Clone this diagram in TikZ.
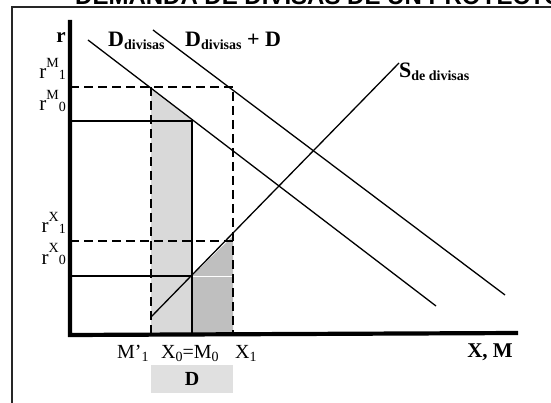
\documentclass[tikz,border=0pt]{standalone}
\usepackage{fontspec}
\setmainfont{Liberation Serif}
\newfontfamily\titlefont{Liberation Sans}
\newcommand{\rlab}[2]{r\raisebox{11pt}{\fontsize{14}{14}\selectfont #1}\raisebox{-1pt}{\fontsize{14}{14}\selectfont #2}}
\newcommand{\subt}[1]{\raisebox{-3pt}{\fontsize{14}{14}\selectfont #1}}
\begin{document}
\begin{tikzpicture}[x=1pt,y=-1pt,
  lab/.style={inner sep=0pt,anchor=base east,font=\fontsize{21}{21}\selectfont},
  blab/.style={inner sep=0pt,anchor=base west,font=\fontsize{20}{20}\selectfont},
  axis/.style={line width=4.2pt},
  guide/.style={line width=2.6pt},
  dguide/.style={line width=2.3pt,dash pattern=on 9pt off 5pt},
  curve/.style={line width=1.3pt}]
\useasboundingbox (0,0) rectangle (551,403);
\clip (0,0) rectangle (551,403);
% title and frame
\node[inner sep=0pt,anchor=base west,font=\titlefont\bfseries\fontsize{24}{24}\selectfont] (title) at (75,4.5) {DEMANDA DE DIVISAS DE UN PROYECTO};
\draw[line width=1.5pt,black!85] (12,415) -- (12,7) -- (560,7);
% key points
\coordinate (O) at (70,333);
\coordinate (Ytop) at (70,20);
\coordinate (Xend) at (518,333);
\coordinate (Da) at (88,40);
\coordinate (Db) at (436,306);
\coordinate (Ea) at (153,30);
\coordinate (Eb) at (505,295);
\coordinate (Sa) at (151,317);
\coordinate (Sb) at (399,63);
\coordinate (M1top) at (151,87);
\coordinate (M1bot) at (151,333);
\coordinate (X1top) at (233,87);
\coordinate (X1bot) at (233,333);
\coordinate (X0bot) at (192,333);
\coordinate (RM1) at (70,87);
\coordinate (RM0) at (70,121);
\coordinate (RX1) at (70,241);
\coordinate (RX0) at (70,276);
% shaded areas
\fill[black!15] (151,333) -- (151,88) -- (192,120) -- (192,333) -- cycle;
\fill[black!25] (192,333) -- (192,276) -- (233,236) -- (233,333) -- cycle;
\draw[white,line width=1pt] (193,276) -- (233,276);
% guides
\draw[dguide] (RM1) -- (X1top) -- (X1bot);
\draw[dguide] (M1top) -- (M1bot);
\draw[dguide] (RX1) -- (233,241);
\draw[guide] (RM0) -- (192,121) -- (X0bot);
\draw[guide] (RX0) -- (192,276);
% curves
\draw[curve] (Da) -- (Db);
\draw[curve] (Ea) -- (Eb);
\draw[curve] (Sa) -- (Sb);
% axes
\draw[axis] (Ytop) -- (70,335) -- (Xend);
% labels
\node[inner sep=0pt,anchor=base east,font=\bfseries\fontsize{21}{21}\selectfont] (rlab) at (66,43) {r};
\node[lab] (lrm1) at (66,79) {\rlab{M}{1}};
\node[lab] (lrm0) at (66,111) {\rlab{M}{0}};
\node[lab] (lrx1) at (66,233) {\rlab{X}{1}};
\node[lab] (lrx0) at (66,264) {\rlab{X}{0}};
\node[inner sep=0pt,anchor=base west,font=\bfseries\fontsize{22}{22}\selectfont] (dl) at (108,47) {D\subt{divisas}};
\node[inner sep=0pt,anchor=base west,font=\bfseries\fontsize{22}{22}\selectfont] (dpl) at (185,47) {D\subt{divisas} + D};
\node[inner sep=0pt,anchor=base west,font=\bfseries\fontsize{22}{22}\selectfont] (sl) at (399,78) {S\subt{de divisas}};
\node[blab] (m1) at (117,358) {M'\subt{1}};
\node[blab] (x0) at (161,358) {X\subt{0}=M\subt{0}};
\node[blab] (x1) at (235,358) {X\subt{1}};
\node[inner sep=0pt,anchor=base east,font=\bfseries\fontsize{21}{21}\selectfont] (xm) at (513,357) {X, M};
\node[fill=black!12,minimum width=82pt,minimum height=28pt,inner sep=0pt,font=\bfseries\fontsize{20}{20}\selectfont] (dbox) at (192,379) {D};
\end{tikzpicture}
\end{document}
